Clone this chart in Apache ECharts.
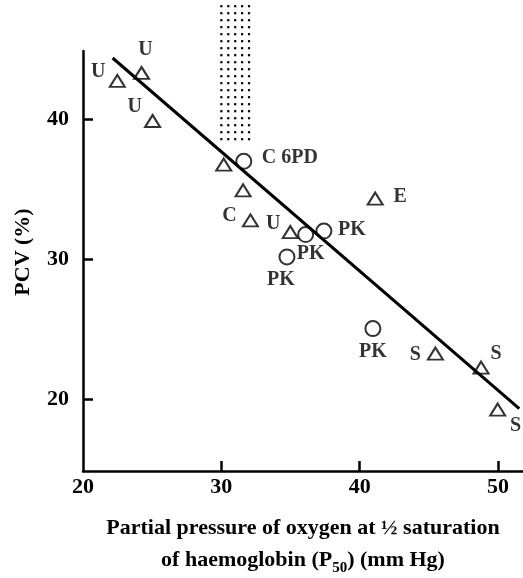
<!DOCTYPE html>
<html><head><meta charset="utf-8">
<script src="https://cdn.jsdelivr.net/npm/echarts@6/dist/echarts.min.js"></script>
<style>html,body{margin:0;padding:0;background:#fff}#c{width:523px;height:578px}</style>
</head><body><div id="c"></div>
<script>
// ---- data ----
const triX = [22.48, 24.23, 25.03, 30.17, 31.57, 32.1, 34.98, 41.12, 45.47, 48.77, 49.97];
const triY = [42.76, 43.33, 39.9, 36.79, 34.95, 32.8, 31.97, 34.36, 23.29, 22.29, 19.29];
const triLabels = ['U', 'U', 'U', '', '', 'C', 'U', 'E', 'S', 'S', 'S'];
const circX = [31.62, 36.09, 37.41, 34.74, 40.95];
const circY = [37.02, 31.79, 32.04, 30.19, 25.07];
const circLabels = ['C 6PD', 'PK', 'PK', 'PK', 'PK'];
const fitX = [22.14, 51.53];
const fitY = [44.4, 19.36];
const shadeRange = [30, 48.1, 32, 38.6]; // x0, yTop, x1, yBottom
const xTicks = [30, 40, 50];
const xTickLabels = [20, 30, 40, 50];
const yTicks = [20, 30, 40];

// ---- styles (label offsets in px) ----
const triLabelOffset = [[-19,-9],[4,-23],[-18,-14],[0,0],[0,0],[-21,-5],[-17,-8],[25,-2],[-20,1],[15,-14],[18,16]];
const circLabelOffset = [[46,-3],[5,19],[28,-1],[-6,23],[0,23]];
const FONT = 'Liberation Serif';
const W = 'bold';

function items(xs, ys, labels, offs) {
  return xs.map((x, i) => ({
    value: [x, ys[i]],
    label: { show: labels[i] !== '', formatter: labels[i], offset: offs[i] }
  }));
}

const chart = echarts.init(document.getElementById('c'), null, { renderer: 'canvas' });
const labelStyle = {
  position: 'inside', color: '#000', fontFamily: FONT, fontSize: 20, fontWeight: W,
  align: 'center', verticalAlign: 'middle'
};
chart.setOption({
  animation: false,
  backgroundColor: '#fff',
  grid: { left: 83, right: 0, top: 51, bottom: 107, containLabel: false, outerBoundsMode: 'none' },
  xAxis: {
    type: 'value', min: 20, max: 51.8,
    axisLine: { show: true, lineStyle: { color: '#000', width: 2.5 } },
    axisTick: { show: true, inside: true, length: 10, lineStyle: { color: '#000', width: 2.5 }, customValues: xTicks },
    axisLabel: { color: '#000', fontFamily: FONT, fontWeight: W, fontSize: 22, margin: 5, customValues: xTickLabels },
    splitLine: { show: false },
    name: 'Partial pressure of oxygen at ½ saturation\nof haemoglobin (P{sub|50}) (mm Hg)',
    nameLocation: 'middle', nameGap: 41,
    nameTextStyle: {
      color: '#000', fontFamily: FONT, fontWeight: W, fontSize: 22, lineHeight: 32, align: 'center',
      rich: { sub: { fontFamily: FONT, fontWeight: W, fontSize: 15, lineHeight: 15, verticalAlign: 'bottom', color: '#000' } }
    }
  },
  yAxis: {
    type: 'value', min: 14.9, max: 44.9,
    axisLine: { show: true, lineStyle: { color: '#000', width: 2.5 } },
    axisTick: { show: true, inside: true, length: 10, lineStyle: { color: '#000', width: 2.5 }, customValues: yTicks },
    axisLabel: { color: '#000', fontFamily: FONT, fontWeight: W, fontSize: 22, margin: 14, customValues: yTicks },
    splitLine: { show: false },
    name: 'PCV (%)', nameLocation: 'middle', nameGap: 49, nameRotate: 90,
    nameTextStyle: { color: '#000', fontFamily: FONT, fontWeight: W, fontSize: 22, padding: [0, 0, 0, 18] }
  },
  series: [
    {
      type: 'custom', clip: false, silent: true, z: 1,
      data: [shadeRange],
      encode: { x: [0, 2], y: [1, 3] },
      renderItem: function (params, api) {
        const x0 = api.value(0), yT = api.value(1), x1 = api.value(2), yB = api.value(3);
        const step = 0.5, children = [];
        for (let x = x0; x <= x1 + 1e-6; x += step) {
          for (let y = yT; y >= yB - 1e-6; y -= step) {
            const p = api.coord([x, y]);
            children.push({ type: 'rect', shape: { x: p[0] - 1.1, y: p[1] - 1.1, width: 2.2, height: 2.2 }, style: { fill: '#000' } });
          }
        }
        return { type: 'group', children: children };
      }
    },
    {
      type: 'line', z: 2, symbol: 'none', silent: true,
      data: fitX.map((x, i) => [x, fitY[i]]),
      lineStyle: { color: '#000', width: 3 }
    },
    {
      type: 'scatter', z: 3, symbol: 'triangle', symbolSize: [15, 12],
      itemStyle: { color: 'rgba(0,0,0,0)', borderColor: '#000', borderWidth: 2 },
      label: labelStyle,
      data: items(triX, triY, triLabels, triLabelOffset)
    },
    {
      type: 'scatter', z: 3, symbol: 'circle', symbolSize: 15,
      itemStyle: { color: 'rgba(0,0,0,0)', borderColor: '#000', borderWidth: 2 },
      label: labelStyle,
      data: items(circX, circY, circLabels, circLabelOffset)
    }
  ]
});
</script></body></html>
